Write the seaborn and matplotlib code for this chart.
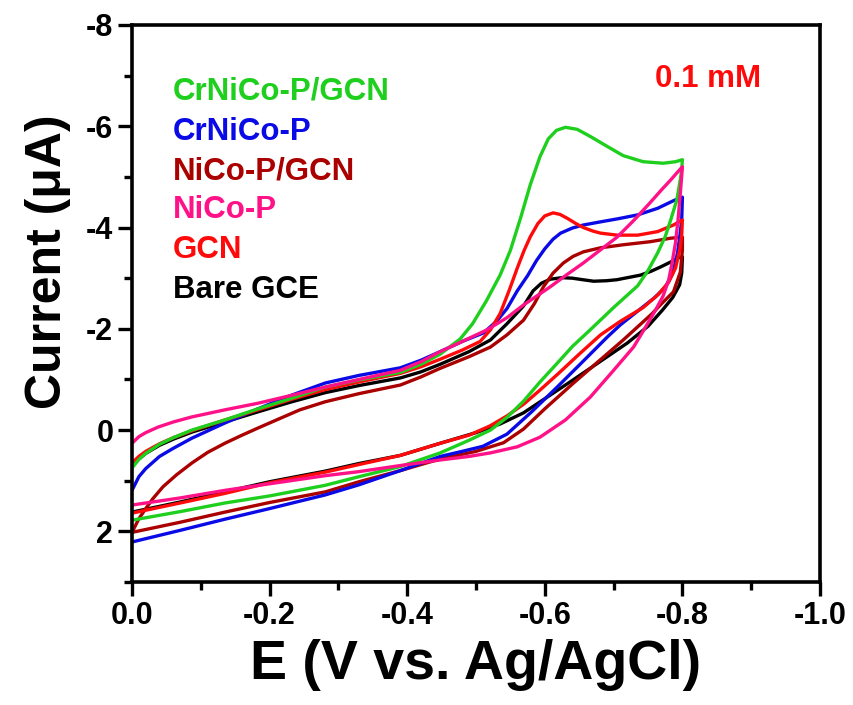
import matplotlib
matplotlib.use("Agg")
import matplotlib.pyplot as plt
from matplotlib.ticker import MultipleLocator, FuncFormatter
import numpy as np
import pandas as pd
import seaborn as sns

# Cyclic voltammograms at 0.1 mM; scan 0 V -> -0.8 V -> 0 V.
# Potential E in V vs. Ag/AgCl, current I in uA.
crnicop_gcn_E = [0.000, -0.010, -0.020, -0.040, -0.060, -0.087, -0.135, -0.183, -0.230, -0.281,
                 -0.330, -0.390, -0.420, -0.448, -0.477, -0.495, -0.515, -0.535, -0.550, -0.565,
                 -0.579, -0.593, -0.605, -0.617, -0.630, -0.647, -0.666, -0.691, -0.714, -0.743,
                 -0.772, -0.790, -0.800,
                 -0.799, -0.797, -0.792, -0.783, -0.775, -0.764, -0.750, -0.735, -0.700, -0.666,
                 -0.640, -0.618, -0.593, -0.569, -0.545, -0.521, -0.490, -0.448, -0.390, -0.330,
                 -0.281, -0.200, -0.135, -0.070, 0.000]
crnicop_gcn_I = [0.75, 0.58, 0.46, 0.28, 0.15, 0.00, -0.20, -0.42, -0.62, -0.85,
                 -0.99, -1.14, -1.30, -1.50, -1.80, -2.10, -2.55, -3.06, -3.55, -4.20,
                 -4.85, -5.40, -5.75, -5.92, -5.98, -5.94, -5.80, -5.60, -5.42, -5.30,
                 -5.27, -5.30, -5.34,
                 -5.15, -4.95, -4.55, -4.15, -3.82, -3.50, -3.15, -2.85, -2.42, -1.98,
                 -1.65, -1.32, -0.95, -0.57, -0.25, 0.00, 0.20, 0.45, 0.72, 0.92,
                 1.09, 1.30, 1.44, 1.61, 1.78]

crnicop_E = [0.000, -0.010, -0.020, -0.040, -0.060, -0.087, -0.135, -0.183, -0.230, -0.281,
             -0.330, -0.390, -0.420, -0.448, -0.480, -0.511, -0.530, -0.545, -0.560, -0.575,
             -0.588, -0.600, -0.612, -0.623, -0.640, -0.656, -0.680, -0.705, -0.735, -0.764,
             -0.787, -0.800,
             -0.799, -0.796, -0.793, -0.786, -0.775, -0.760, -0.735, -0.710, -0.691, -0.655,
             -0.618, -0.580, -0.545, -0.510, -0.480, -0.448, -0.390, -0.330, -0.281, -0.200,
             -0.135, -0.070, 0.000]
crnicop_I = [1.19, 0.92, 0.76, 0.52, 0.36, 0.16, -0.14, -0.42, -0.68, -0.93,
             -1.08, -1.23, -1.38, -1.55, -1.75, -1.92, -2.15, -2.40, -2.75, -3.05,
             -3.35, -3.58, -3.77, -3.89, -3.99, -4.05, -4.11, -4.17, -4.25, -4.38,
             -4.53, -4.60,
             -4.15, -3.80, -3.50, -3.10, -2.82, -2.62, -2.35, -2.08, -1.84, -1.35,
             -0.85, -0.35, 0.08, 0.32, 0.42, 0.52, 0.80, 1.08, 1.28, 1.55,
             1.76, 1.98, 2.21]

nicop_gcn_E = [0.000, -0.010, -0.020, -0.030, -0.045, -0.065, -0.087, -0.110, -0.135, -0.160,
               -0.183, -0.210, -0.244, -0.281, -0.330, -0.390, -0.420, -0.448, -0.490, -0.521,
               -0.545, -0.569, -0.585, -0.598, -0.612, -0.627, -0.641, -0.656, -0.681, -0.714,
               -0.753, -0.783, -0.800,
               -0.800, -0.797, -0.787, -0.770, -0.756, -0.714, -0.680, -0.641, -0.600, -0.569,
               -0.540, -0.500, -0.448, -0.390, -0.330, -0.281, -0.200, -0.135, -0.070, 0.000]
nicop_gcn_I = [2.02, 1.75, 1.55, 1.36, 1.12, 0.88, 0.65, 0.44, 0.26, 0.10,
               -0.04, -0.20, -0.40, -0.56, -0.72, -0.89, -1.05, -1.22, -1.45, -1.64,
               -1.88, -2.17, -2.50, -2.83, -3.10, -3.30, -3.43, -3.52, -3.60, -3.66,
               -3.72, -3.79, -3.81,
               -3.56, -3.12, -2.73, -2.50, -2.30, -1.78, -1.38, -0.92, -0.42, -0.02,
               0.25, 0.42, 0.57, 0.80, 1.02, 1.22, 1.43, 1.62, 1.82, 2.02]

nicop_E = [0.000, -0.010, -0.020, -0.038, -0.060, -0.087, -0.135, -0.183, -0.230, -0.281,
           -0.330, -0.390, -0.420, -0.448, -0.480, -0.516, -0.545, -0.569, -0.608, -0.630,
           -0.656, -0.680, -0.705, -0.730, -0.753, -0.770, -0.783, -0.792, -0.800,
           -0.797, -0.794, -0.790, -0.785, -0.780, -0.772, -0.761, -0.745, -0.729, -0.700,
           -0.666, -0.630, -0.593, -0.560, -0.521, -0.490, -0.448, -0.390, -0.330, -0.281,
           -0.200, -0.135, -0.070, 0.000]
nicop_I = [0.26, 0.13, 0.05, -0.06, -0.16, -0.26, -0.40, -0.53, -0.68, -0.85,
           -1.00, -1.18, -1.35, -1.55, -1.75, -1.98, -2.22, -2.47, -2.83, -3.05,
           -3.30, -3.55, -3.81, -4.15, -4.49, -4.75, -4.94, -5.08, -5.20,
           -4.68, -4.20, -3.70, -3.30, -2.96, -2.65, -2.37, -2.00, -1.64, -1.18,
           -0.65, -0.20, 0.14, 0.33, 0.45, 0.52, 0.59, 0.70, 0.82, 0.90,
           1.06, 1.19, 1.34, 1.48]

gcn_E = [0.000, -0.010, -0.020, -0.040, -0.060, -0.090, -0.135, -0.183, -0.230, -0.281,
         -0.330, -0.390, -0.420, -0.448, -0.480, -0.506, -0.521, -0.535, -0.548, -0.560,
         -0.570, -0.579, -0.590, -0.600, -0.612, -0.622, -0.633, -0.645, -0.656, -0.670,
         -0.681, -0.705, -0.735, -0.764, -0.787, -0.800,
         -0.799, -0.796, -0.790, -0.780, -0.765, -0.743, -0.710, -0.681, -0.650, -0.620,
         -0.593, -0.570, -0.545, -0.520, -0.490, -0.448, -0.390, -0.330, -0.281, -0.200,
         -0.135, -0.070, 0.000]
gcn_I = [0.65, 0.52, 0.42, 0.27, 0.15, 0.00, -0.20, -0.40, -0.60, -0.80,
         -0.95, -1.12, -1.25, -1.40, -1.58, -1.75, -1.98, -2.30, -2.75, -3.20,
         -3.55, -3.82, -4.08, -4.23, -4.29, -4.26, -4.18, -4.08, -4.00, -3.93,
         -3.89, -3.85, -3.85, -3.92, -4.05, -4.15,
         -3.85, -3.55, -3.20, -2.92, -2.68, -2.42, -2.15, -1.88, -1.50, -1.12,
         -0.79, -0.52, -0.28, -0.08, 0.10, 0.26, 0.50, 0.68, 0.83, 1.04,
         1.25, 1.44, 1.64]

bare_gce_E = [0.000, -0.010, -0.020, -0.040, -0.060, -0.087, -0.135, -0.183, -0.230, -0.281,
              -0.330, -0.390, -0.420, -0.448, -0.490, -0.521, -0.545, -0.569, -0.583, -0.595,
              -0.608, -0.625, -0.640, -0.655, -0.671, -0.690, -0.705, -0.720, -0.739, -0.755,
              -0.768, -0.783, -0.793, -0.800,
              -0.799, -0.796, -0.786, -0.771, -0.750, -0.720, -0.680, -0.641, -0.600, -0.569,
              -0.535, -0.500, -0.448, -0.390, -0.330, -0.281, -0.200, -0.135, -0.070, 0.000]
bare_gce_I = [0.71, 0.57, 0.46, 0.30, 0.18, 0.04, -0.16, -0.36, -0.55, -0.74,
              -0.88, -1.03, -1.15, -1.30, -1.55, -1.78, -2.10, -2.45, -2.75, -2.90,
              -2.98, -3.01, -3.00, -2.97, -2.94, -2.95, -2.97, -3.01, -3.06, -3.14,
              -3.22, -3.32, -3.40, -3.42,
              -3.10, -2.87, -2.62, -2.37, -2.05, -1.72, -1.35, -0.99, -0.62, -0.34,
              -0.12, 0.05, 0.26, 0.50, 0.66, 0.81, 1.02, 1.22, 1.42, 1.62]

samples = ["CrNiCo-P/GCN", "CrNiCo-P", "NiCo-P/GCN", "NiCo-P", "GCN", "Bare GCE"]
sample_colors = ["#1ecf1e", "#0a0ae6", "#aa0000", "#ff1188", "#ff0a0a", "#000000"]
draw_order = ["Bare GCE", "NiCo-P/GCN", "CrNiCo-P", "GCN", "CrNiCo-P/GCN", "NiCo-P"]

curves = {
    "CrNiCo-P/GCN": (crnicop_gcn_E, crnicop_gcn_I),
    "CrNiCo-P": (crnicop_E, crnicop_I),
    "NiCo-P/GCN": (nicop_gcn_E, nicop_gcn_I),
    "NiCo-P": (nicop_E, nicop_I),
    "GCN": (gcn_E, gcn_I),
    "Bare GCE": (bare_gce_E, bare_gce_I),
}

frames = []
for name in draw_order:
    e, i = curves[name]
    frames.append(pd.DataFrame({"E": e, "I": i, "sample": name}))
df = pd.concat(frames, ignore_index=True)

sns.set_theme(style="ticks", rc={
    "axes.edgecolor": "black", "xtick.color": "black", "ytick.color": "black",
    "text.color": "black", "axes.labelcolor": "black",
    "lines.solid_joinstyle": "round", "lines.solid_capstyle": "round",
})
plt.rcParams["font.family"] = ["Liberation Sans", "DejaVu Sans"]
plt.rcParams["font.weight"] = "bold"
plt.rcParams["axes.labelweight"] = "bold"
plt.rcParams["axes.unicode_minus"] = False

W, H = 854, 705
fig = plt.figure(figsize=(W / 100, H / 100), dpi=100)
ax = fig.add_axes([132 / W, 1 - 582 / H, 688 / W, 557 / H])

palette = dict(zip(samples, sample_colors))
sns.lineplot(data=df, x="E", y="I", hue="sample", hue_order=draw_order, palette=palette,
             sort=False, estimator=None, units="sample", linewidth=2.4, legend=False, ax=ax)

ax.set_xlim(0, -1.0)
ax.set_ylim(3, -8)
ax.xaxis.set_major_locator(MultipleLocator(0.2))
ax.xaxis.set_minor_locator(MultipleLocator(0.1))
ax.yaxis.set_major_locator(MultipleLocator(2))
ax.yaxis.set_minor_locator(MultipleLocator(1))
ax.xaxis.set_major_formatter(FuncFormatter(lambda v, p: "0.0" if abs(v) < 1e-9 else f"{v:.1f}"))
ax.yaxis.set_major_formatter(FuncFormatter(lambda v, p: "0" if abs(v) < 1e-9 else f"{v:.0f}"))

for s in ax.spines.values():
    s.set_linewidth(2.6)
    s.set_visible(True)
ax.tick_params(which="major", direction="out", length=10, width=2.4, labelsize=22, pad=3.5,
               top=False, right=False)
ax.tick_params(which="minor", direction="out", length=6, width=2.4, top=False, right=False)

ax.set_xlabel("E (V vs. Ag/AgCl)", fontsize=40, labelpad=6)
ax.set_ylabel("Current (μA)", fontsize=36)
ax.yaxis.set_label_coords(-0.088, 0.575)

# sample names in their curve colours
for k, (name, col) in enumerate(zip(samples, sample_colors)):
    fig.text(173 / W, 1 - (100 + 39.5 * k) / H, name, color=col, fontsize=22.5,
             fontweight="bold", ha="left", va="baseline")

fig.text(655 / W, 1 - 87 / H, "0.1 mM", color="#ff0a0a", fontsize=22.5,
         fontweight="bold", ha="left", va="baseline")

fig.savefig("out.png", dpi=100)
